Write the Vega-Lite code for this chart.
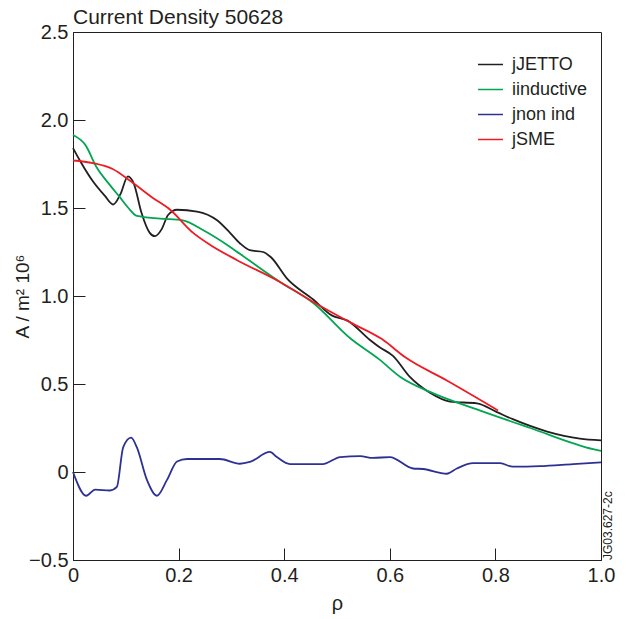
{
  "$schema": "https://vega.github.io/schema/vega-lite/v6.json",
  "width": 528,
  "height": 528,
  "autosize": "none",
  "padding": {"left": 73, "top": 32, "right": 25, "bottom": 59},
  "background": "white",
  "title": {"text": "Current Density 50628", "anchor": "start", "frame": "group", "font": "Liberation Sans", "fontSize": 21, "fontWeight": "normal", "color": "#231f20", "offset": -6},
  "config": {
    "view": {"stroke": "#231f20", "strokeWidth": 1},
    "axis": {"grid": false, "labelFlush": false, "domainColor": "#231f20", "tickColor": "#231f20", "labelColor": "#231f20", "titleColor": "#231f20", "labelFont": "Liberation Sans", "titleFont": "Liberation Sans", "labelFontSize": 20, "titleFontSize": 19, "titleFontWeight": "normal", "tickSize": -12, "labelPadding": 17}
  },
  "datasets": {
    "curves": [
      {"rho": 0, "v": 1.84, "s": "jJETTO"},
      {"rho": 0.013, "v": 1.77, "s": "jJETTO"},
      {"rho": 0.038, "v": 1.65, "s": "jJETTO"},
      {"rho": 0.06, "v": 1.57, "s": "jJETTO"},
      {"rho": 0.076, "v": 1.52, "s": "jJETTO"},
      {"rho": 0.09, "v": 1.58, "s": "jJETTO"},
      {"rho": 0.104, "v": 1.68, "s": "jJETTO"},
      {"rho": 0.115, "v": 1.64, "s": "jJETTO"},
      {"rho": 0.13, "v": 1.47, "s": "jJETTO"},
      {"rho": 0.145, "v": 1.36, "s": "jJETTO"},
      {"rho": 0.155, "v": 1.34, "s": "jJETTO"},
      {"rho": 0.168, "v": 1.38, "s": "jJETTO"},
      {"rho": 0.18, "v": 1.46, "s": "jJETTO"},
      {"rho": 0.197, "v": 1.49, "s": "jJETTO"},
      {"rho": 0.235, "v": 1.48, "s": "jJETTO"},
      {"rho": 0.273, "v": 1.43, "s": "jJETTO"},
      {"rho": 0.297, "v": 1.36, "s": "jJETTO"},
      {"rho": 0.316, "v": 1.3, "s": "jJETTO"},
      {"rho": 0.335, "v": 1.26, "s": "jJETTO"},
      {"rho": 0.36, "v": 1.25, "s": "jJETTO"},
      {"rho": 0.375, "v": 1.22, "s": "jJETTO"},
      {"rho": 0.405, "v": 1.1, "s": "jJETTO"},
      {"rho": 0.455, "v": 0.98, "s": "jJETTO"},
      {"rho": 0.49, "v": 0.89, "s": "jJETTO"},
      {"rho": 0.52, "v": 0.86, "s": "jJETTO"},
      {"rho": 0.5625, "v": 0.75, "s": "jJETTO"},
      {"rho": 0.58, "v": 0.71, "s": "jJETTO"},
      {"rho": 0.606, "v": 0.66, "s": "jJETTO"},
      {"rho": 0.638, "v": 0.54, "s": "jJETTO"},
      {"rho": 0.676, "v": 0.45, "s": "jJETTO"},
      {"rho": 0.714, "v": 0.4, "s": "jJETTO"},
      {"rho": 0.765, "v": 0.39, "s": "jJETTO"},
      {"rho": 0.803, "v": 0.34, "s": "jJETTO"},
      {"rho": 0.833, "v": 0.3, "s": "jJETTO"},
      {"rho": 0.898, "v": 0.23, "s": "jJETTO"},
      {"rho": 0.96, "v": 0.19, "s": "jJETTO"},
      {"rho": 1.0, "v": 0.18, "s": "jJETTO"},

      {"rho": 0, "v": 1.915, "s": "iinductive"},
      {"rho": 0.023, "v": 1.86, "s": "iinductive"},
      {"rho": 0.045, "v": 1.73, "s": "iinductive"},
      {"rho": 0.07, "v": 1.63, "s": "iinductive"},
      {"rho": 0.089, "v": 1.56, "s": "iinductive"},
      {"rho": 0.105, "v": 1.5, "s": "iinductive"},
      {"rho": 0.121, "v": 1.455, "s": "iinductive"},
      {"rho": 0.165, "v": 1.44, "s": "iinductive"},
      {"rho": 0.208, "v": 1.43, "s": "iinductive"},
      {"rho": 0.246, "v": 1.375, "s": "iinductive"},
      {"rho": 0.297, "v": 1.28, "s": "iinductive"},
      {"rho": 0.316, "v": 1.24, "s": "iinductive"},
      {"rho": 0.392, "v": 1.08, "s": "iinductive"},
      {"rho": 0.455, "v": 0.96, "s": "iinductive"},
      {"rho": 0.525, "v": 0.76, "s": "iinductive"},
      {"rho": 0.58, "v": 0.64, "s": "iinductive"},
      {"rho": 0.62, "v": 0.54, "s": "iinductive"},
      {"rho": 0.676, "v": 0.455, "s": "iinductive"},
      {"rho": 0.77, "v": 0.35, "s": "iinductive"},
      {"rho": 0.866, "v": 0.25, "s": "iinductive"},
      {"rho": 0.985, "v": 0.13, "s": "iinductive"},
      {"rho": 1.0, "v": 0.12, "s": "iinductive"},

      {"rho": 0, "v": 0.0, "s": "jnon ind"},
      {"rho": 0.025, "v": -0.135, "s": "jnon ind"},
      {"rho": 0.042, "v": -0.1, "s": "jnon ind"},
      {"rho": 0.07, "v": -0.105, "s": "jnon ind"},
      {"rho": 0.083, "v": -0.085, "s": "jnon ind"},
      {"rho": 0.095, "v": 0.14, "s": "jnon ind"},
      {"rho": 0.11, "v": 0.195, "s": "jnon ind"},
      {"rho": 0.121, "v": 0.14, "s": "jnon ind"},
      {"rho": 0.14, "v": -0.045, "s": "jnon ind"},
      {"rho": 0.159, "v": -0.135, "s": "jnon ind"},
      {"rho": 0.178, "v": -0.045, "s": "jnon ind"},
      {"rho": 0.197, "v": 0.06, "s": "jnon ind"},
      {"rho": 0.216, "v": 0.074, "s": "jnon ind"},
      {"rho": 0.278, "v": 0.074, "s": "jnon ind"},
      {"rho": 0.316, "v": 0.047, "s": "jnon ind"},
      {"rho": 0.335, "v": 0.057, "s": "jnon ind"},
      {"rho": 0.373, "v": 0.114, "s": "jnon ind"},
      {"rho": 0.386, "v": 0.085, "s": "jnon ind"},
      {"rho": 0.411, "v": 0.045, "s": "jnon ind"},
      {"rho": 0.473, "v": 0.045, "s": "jnon ind"},
      {"rho": 0.506, "v": 0.085, "s": "jnon ind"},
      {"rho": 0.544, "v": 0.09, "s": "jnon ind"},
      {"rho": 0.568, "v": 0.08, "s": "jnon ind"},
      {"rho": 0.6, "v": 0.085, "s": "jnon ind"},
      {"rho": 0.644, "v": 0.02, "s": "jnon ind"},
      {"rho": 0.663, "v": 0.017, "s": "jnon ind"},
      {"rho": 0.708, "v": -0.01, "s": "jnon ind"},
      {"rho": 0.727, "v": 0.02, "s": "jnon ind"},
      {"rho": 0.758, "v": 0.05, "s": "jnon ind"},
      {"rho": 0.809, "v": 0.05, "s": "jnon ind"},
      {"rho": 0.833, "v": 0.03, "s": "jnon ind"},
      {"rho": 0.884, "v": 0.033, "s": "jnon ind"},
      {"rho": 0.947, "v": 0.045, "s": "jnon ind"},
      {"rho": 1.0, "v": 0.055, "s": "jnon ind"},

      {"rho": 0, "v": 1.77, "s": "jSME"},
      {"rho": 0.038, "v": 1.755, "s": "jSME"},
      {"rho": 0.076, "v": 1.72, "s": "jSME"},
      {"rho": 0.11, "v": 1.65, "s": "jSME"},
      {"rho": 0.15, "v": 1.56, "s": "jSME"},
      {"rho": 0.184, "v": 1.49, "s": "jSME"},
      {"rho": 0.227, "v": 1.36, "s": "jSME"},
      {"rho": 0.26, "v": 1.29, "s": "jSME"},
      {"rho": 0.31, "v": 1.205, "s": "jSME"},
      {"rho": 0.392, "v": 1.08, "s": "jSME"},
      {"rho": 0.455, "v": 0.966, "s": "jSME"},
      {"rho": 0.525, "v": 0.85, "s": "jSME"},
      {"rho": 0.585, "v": 0.755, "s": "jSME"},
      {"rho": 0.63, "v": 0.65, "s": "jSME"},
      {"rho": 0.708, "v": 0.52, "s": "jSME"},
      {"rho": 0.805, "v": 0.35, "s": "jSME"}
    ]
  },
  "layer": [
    {
      "data": {"name": "curves"},
      "mark": {"type": "line", "strokeWidth": 1.8, "interpolate": "monotone"},
      "encoding": {
        "x": {"field": "rho", "type": "quantitative", "scale": {"domain": [0, 1], "nice": false},
          "axis": {"values": [0, 0.2, 0.4, 0.6, 0.8, 1.0], "title": "ρ", "titleFontSize": 20, "titleBaseline": "alphabetic", "titleY": 49, "titleX": 264,
            "labelExpr": "datum.value == 0 ? '0' : format(datum.value, '.1f')"}},
        "y": {"field": "v", "type": "quantitative", "scale": {"domain": [-0.5, 2.5], "nice": false},
          "axis": {"values": [-0.5, 0, 0.5, 1.0, 1.5, 2.0, 2.5], "title": "A / m² 10⁶", "titleBaseline": "alphabetic", "titleX": -45, "titleY": 264, "titleAngle": -90,
            "labelExpr": "datum.value == 0 ? '0' : replace(format(datum.value, '.1f'), '-', '−')"}},
        "color": {"field": "s", "type": "nominal",
          "scale": {"domain": ["jJETTO", "iinductive", "jnon ind", "jSME"], "range": ["#231f20", "#00a650", "#2e3192", "#ed1c24"]},
          "sort": ["jJETTO", "iinductive", "jnon ind", "jSME"],
          "legend": {"title": null, "orient": "none", "legendX": 404, "legendY": 19, "symbolType": "stroke", "symbolSize": 625, "symbolStrokeWidth": 1.5, "labelFont": "Liberation Sans", "labelFontSize": 18, "labelColor": "#231f20", "rowPadding": 2, "labelOffset": 8}},
        "detail": {"field": "s"}
      }
    },
    {
      "data": {"values": [{"label": "JG03.627-2c"}]},
      "mark": {"type": "text", "angle": 270, "align": "left", "baseline": "top", "font": "Liberation Sans", "fontSize": 12, "color": "#231f20", "dy": 2},
      "encoding": {
        "x": {"datum": 1},
        "y": {"datum": -0.5},
        "text": {"field": "label"}
      }
    }
  ]
}
